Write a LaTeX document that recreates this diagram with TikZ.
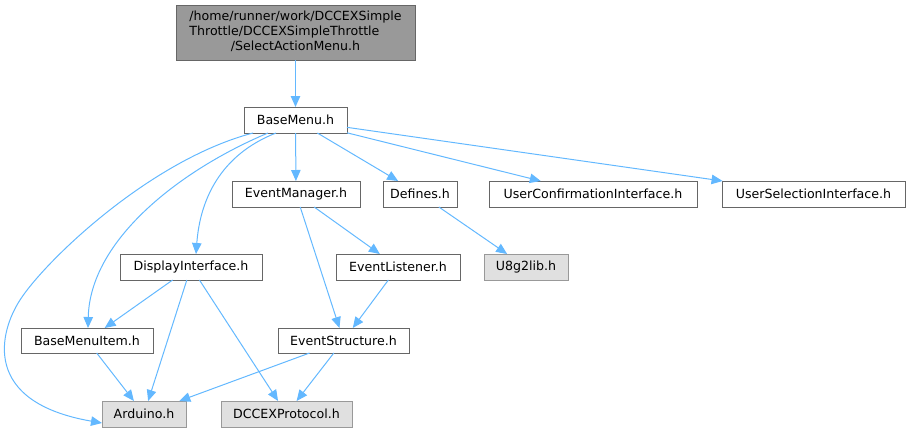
\documentclass[tikz,border=0pt]{standalone}
\usepackage{fontspec}
\setmainfont{DejaVu Sans}
\usetikzlibrary{arrows.meta}
\definecolor{edgec}{HTML}{63B8FF}
\definecolor{bordc}{HTML}{666666}
\definecolor{gbord}{HTML}{999999}
\definecolor{gfill}{HTML}{E0E0E0}
\definecolor{rootfill}{HTML}{999999}
\begin{document}
\begin{tikzpicture}[x=1pt,y=-1pt,
  every node/.style={font=\fontsize{12.6}{15}\selectfont, inner sep=0pt, outer sep=0pt},
  filebox/.style={draw=bordc, fill=white, line width=1pt, rectangle, minimum height=26pt},
  extbox/.style={draw=gbord, fill=gfill, line width=1pt, rectangle, minimum height=26pt},
  rootbox/.style={draw=bordc, fill=rootfill, line width=1pt, rectangle, minimum height=55pt, minimum width=239pt},
  dep/.style={draw=edgec, line width=1pt, -{Triangle[length=11pt,width=9.5pt]}}
]
\useasboundingbox (0,0) rectangle (910,432);

\node[rootbox] (root) at (295.5,32.5) {\begin{tabular}{@{}l@{}}/home/runner/work/DCCEXSimple\\Throttle/DCCEXSimpleThrottle\\\multicolumn{1}{@{}c@{}}{/SelectActionMenu.h}\end{tabular}};
\node[filebox, minimum width=103pt] (basemenu) at (295.5,120) {BaseMenu.h};
\node[filebox, minimum width=128pt] (eventmgr) at (296,194) {EventManager.h};
\node[filebox, minimum width=74pt] (defines) at (420,194) {Defines.h};
\node[filebox, minimum width=208pt] (userconf) at (593,194) {UserConfirmationInterface.h};
\node[filebox, minimum width=183pt] (usersel) at (813.5,194) {UserSelectionInterface.h};
\node[filebox, minimum width=142pt] (displayif) at (191,267) {DisplayInterface.h};
\node[filebox, minimum width=124pt] (eventlist) at (398,267) {EventListener.h};
\node[extbox, minimum width=84pt] (u8g2) at (526,267) {U8g2lib.h};
\node[filebox, minimum width=132pt, minimum height=25pt] (menuitem) at (87,340.5) {BaseMenuItem.h};
\node[filebox, minimum width=131pt, minimum height=25pt] (eventstruct) at (343.5,340.5) {EventStructure.h};
\node[extbox, minimum width=84pt] (arduino) at (144,414) {Arduino.h};
\node[extbox, minimum width=131pt] (dccex) at (286.5,414) {DCCEXProtocol.h};

\draw[dep] (root) -- (basemenu);
\draw[dep] (basemenu) -- (eventmgr);
\draw[dep] (basemenu) -- (defines);
\draw[dep] (basemenu) -- (userconf);
\draw[dep] (basemenu) -- (usersel);
\draw[dep] ([xshift=-19.5pt]basemenu.south) .. controls (220,155) and (200,200) .. ([xshift=5pt]displayif.north);
\draw[dep] ([xshift=-27.5pt]basemenu.south) .. controls (180,170) and (90,240) .. ([xshift=1pt]menuitem.north);
\draw[dep] ([xshift=-42.5pt]basemenu.south) .. controls (150,160) and (45,261) .. (20,300) .. controls (-0.7,332) and (-19,402) .. ([yshift=-9pt]arduino.west);
\draw[dep] (eventmgr) -- (eventlist);
\draw[dep] (eventmgr) -- (eventstruct);
\draw[dep] (eventlist) -- (eventstruct);
\draw[dep] (defines) -- (u8g2);
\draw[dep] (displayif) -- (menuitem);
\draw[dep] (displayif) -- (arduino);
\draw[dep] (displayif) -- (dccex);
\draw[dep] (menuitem) -- (arduino);
\draw[dep] (eventstruct) -- (arduino);
\draw[dep] (eventstruct) -- (dccex);
\end{tikzpicture}
\end{document}
